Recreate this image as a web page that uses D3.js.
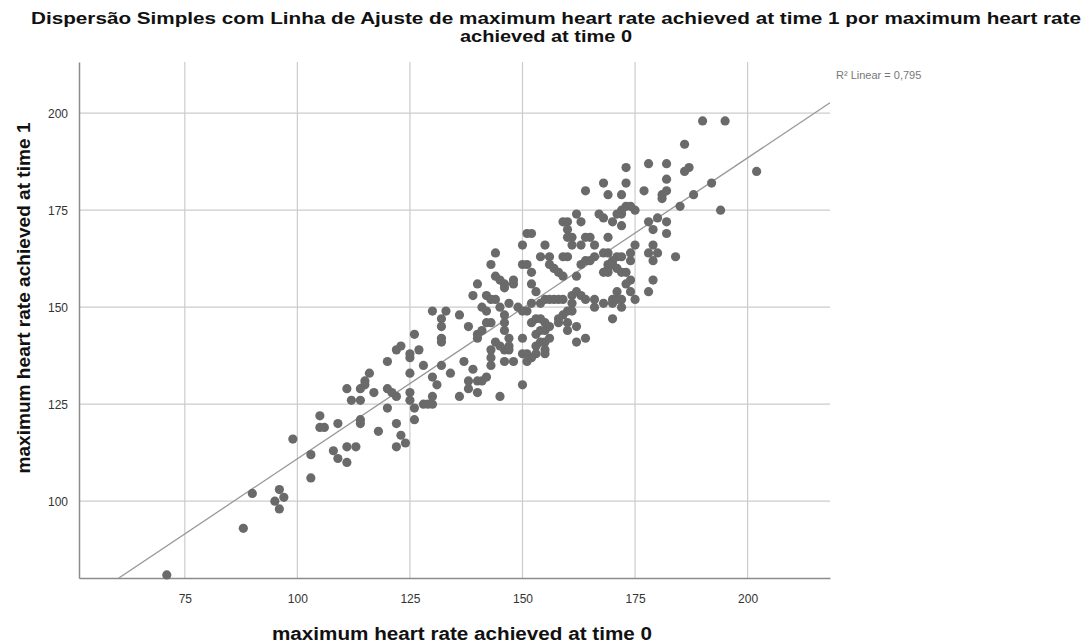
<!DOCTYPE html>
<html>
<head>
<meta charset="utf-8">
<script src="https://cdn.jsdelivr.net/npm/d3@7"></script>
<style>
  html, body { margin: 0; padding: 0; background: #fff; }
  svg { display: block; }
  text { font-family: "Liberation Sans", Arial, sans-serif; }
</style>
</head>
<body>
<script>
// ---- Data ----
const time0 = [71,88,90,96,97,95,96,99,103,103,105,105,106,109,108,109,
140,139,130,133,132,136,132,132,132,138,140,140,126,123,122,125,125,127,120,128,132,137,139,125,130,134,116,115,115,114,111,112,114,117,120,121,122,125,125,126,126,131,130,130,129,128,136,138,138,140,140,120,122,114,114,118,123,124,122,111,113,111,
164,162,159,160,163,160,160,161,161,163,164,151,152,150,155,144,143,150,151,154,156,156,157,158,159,160,159,162,163,164,152,152,144,145,146,146,148,148,142,143,144,145,146,141,142,147,149,150,151,152,153,154,155,156,157,158,159,161,161,162,163,164,142,141,143,146,146,152,153,154,155,153,154,155,156,158,158,159,160,161,160,160,162,162,164,154,155,156,153,153,152,151,155,155,150,150,151,147,147,146,147,144,143,143,143,145,146,148,142,141,145,150,
186,186,187,178,182,173,168,173,182,169,172,177,181,182,181,185,188,192,194,202,190,195,173,174,175,172,172,171,167,168,170,172,178,180,179,182,182,169,165,166,175,174,172,171,170,169,168,166,165,179,178,179,180,184,174,169,169,170,171,168,169,172,173,174,173,179,178,174,175,172,172,171,171,170,170,168,166,166,170];
const time1 = [81,93,102,103,101,100,98,116,112,106,122,119,119,120,113,111,
156,153,149,149,147,148,145,142,141,145,143,142,143,140,139,138,137,139,136,135,135,136,134,133,132,133,133,131,130,129,129,126,126,128,129,128,127,128,126,124,121,130,127,125,125,125,127,129,131,131,128,124,120,121,120,118,117,115,114,114,114,110,
180,174,172,172,172,170,168,166,168,166,168,169,169,166,166,164,161,161,161,163,163,161,160,159,163,163,158,158,161,162,159,156,158,157,156,155,157,156,153,152,152,150,148,150,149,151,150,149,149,151,154,151,152,152,152,152,152,153,151,154,153,152,146,144,146,146,144,146,147,147,146,143,144,144,145,146,147,148,149,149,146,144,145,141,142,141,141,142,140,138,137,136,139,138,142,138,138,142,140,139,139,141,139,137,135,140,136,136,132,131,127,130,
192,185,186,187,187,186,182,182,183,179,179,180,179,180,178,176,179,182,175,185,198,198,176,176,175,175,174,174,174,173,172,171,172,173,170,172,169,168,168,166,166,164,163,163,162,164,164,163,162,166,164,162,164,163,162,161,160,161,160,159,159,159,159,157,156,157,154,154,152,152,150,154,152,152,151,151,152,150,147];

const xTicks = [75, 100, 125, 150, 175, 200];
const yTicks = [100, 125, 150, 175, 200];
const xDomain = [51.5, 218.3];
const yDomain = [80.2, 213.2];
const fitIntercept = 33.4;
const fitSlope = 0.7755;
const r2Label = "R\u00B2 Linear = 0,795";
const titleLines = ["Dispers\u00E3o Simples com Linha de Ajuste de maximum heart rate achieved at time 1 por maximum heart rate", "achieved at time 0"];
const xTitle = "maximum heart rate achieved at time 0";
const yTitle = "maximum heart rate achieved at time 1";

// ---- Layout ----
const W = 1089, H = 643;
const plot = { left: 79, top: 62, right: 830, bottom: 578 };

const svg = d3.select("body").append("svg").attr("width", W).attr("height", H);

const x = d3.scaleLinear().domain(xDomain).range([plot.left, plot.right]);
const y = d3.scaleLinear().domain(yDomain).range([plot.bottom, plot.top]);

// gridlines
svg.append("g").selectAll("line").data(xTicks).join("line")
  .attr("x1", d => x(d)).attr("x2", d => x(d))
  .attr("y1", plot.top).attr("y2", plot.bottom)
  .attr("stroke", "#cccccc").attr("stroke-width", 1.2);
svg.append("g").selectAll("line").data(yTicks).join("line")
  .attr("y1", d => y(d)).attr("y2", d => y(d))
  .attr("x1", plot.left).attr("x2", plot.right)
  .attr("stroke", "#cccccc").attr("stroke-width", 1.2);

// axes
const xAxis = d3.axisBottom(x).tickValues(xTicks).tickSize(0).tickPadding(16);
const yAxis = d3.axisLeft(y).tickValues(yTicks).tickSize(0).tickPadding(11);
const gx = svg.append("g").attr("transform", `translate(0,${plot.bottom})`).call(xAxis);
const gy = svg.append("g").attr("transform", `translate(${plot.left},0)`).call(yAxis);
[gx, gy].forEach(g => {
  g.select(".domain").attr("stroke", "#8c8c8c").attr("stroke-width", 1.5);
  g.selectAll("text").attr("font-family", "Liberation Sans, Arial, sans-serif")
    .attr("font-size", 12).attr("fill", "#333");
});

// fit line, clipped to plot
svg.append("clipPath").attr("id", "clip").append("rect")
  .attr("x", plot.left).attr("y", plot.top)
  .attr("width", plot.right - plot.left).attr("height", plot.bottom - plot.top);
const fx0 = (yDomain[0] - fitIntercept) / fitSlope;
const fx1 = xDomain[1];
svg.append("line").attr("clip-path", "url(#clip)")
  .attr("x1", x(fx0)).attr("y1", y(fitIntercept + fitSlope * fx0))
  .attr("x2", x(fx1)).attr("y2", y(fitIntercept + fitSlope * fx1))
  .attr("stroke", "#999").attr("stroke-width", 1.3);

// points
const pts = time0.map((v, i) => [v, time1[i]]);
svg.append("g").selectAll("circle").data(pts).join("circle")
  .attr("cx", d => x(d[0])).attr("cy", d => y(d[1]))
  .attr("r", 4.6).attr("fill", "#6a6a6a");

// R2 label
svg.append("text").attr("x", 836).attr("y", 79).attr("font-size", 11)
  .attr("fill", "#777").text(r2Label);

// title
svg.append("text").attr("x", 556).attr("y", 24)
  .attr("text-anchor", "middle").attr("font-weight", "bold").attr("font-size", 17)
  .attr("textLength", 1050).attr("lengthAdjust", "spacingAndGlyphs")
  .attr("fill", "#111").text(titleLines[0]);
svg.append("text").attr("x", 546).attr("y", 42)
  .attr("text-anchor", "middle").attr("font-weight", "bold").attr("font-size", 17)
  .attr("textLength", 172).attr("lengthAdjust", "spacingAndGlyphs")
  .attr("fill", "#111").text(titleLines[1]);

// axis titles
svg.append("text").attr("x", 462).attr("y", 640)
  .attr("text-anchor", "middle").attr("font-weight", "bold").attr("font-size", 18)
  .attr("textLength", 380).attr("lengthAdjust", "spacingAndGlyphs")
  .attr("fill", "#111").text(xTitle);
svg.append("text").attr("transform", `translate(30,298) rotate(-90)`)
  .attr("text-anchor", "middle").attr("font-weight", "bold").attr("font-size", 18)
  .attr("textLength", 351).attr("lengthAdjust", "spacingAndGlyphs")
  .attr("fill", "#111").text(yTitle);
</script>
</body>
</html>
